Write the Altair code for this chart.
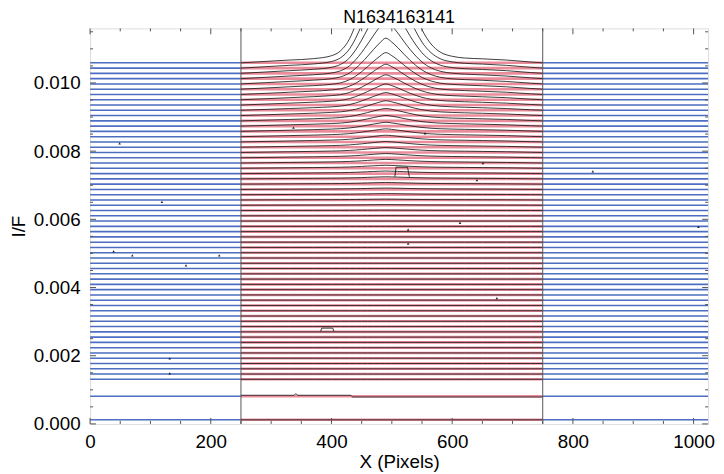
import altair as alt
import pandas as pd

# ---------------- data ----------------
TITLE = "N1634163141"

# baseline (fit) level of every row profile, top to bottom
ROW_OFFSETS = [
    0.010590, 0.010435, 0.010281, 0.010126, 0.009971, 0.009817, 0.009662, 0.009507,
    0.009352, 0.009198, 0.009043, 0.008888, 0.008734, 0.008579, 0.008424, 0.008270,
    0.008115, 0.007960, 0.007805, 0.007651, 0.007496, 0.007341, 0.007187, 0.007032,
    0.006877, 0.006723, 0.006568, 0.006413, 0.006258, 0.006104, 0.005949, 0.005794,
    0.005640, 0.005485, 0.005330, 0.005176, 0.005021, 0.004866, 0.004711, 0.004557,
    0.004402, 0.004247, 0.004093, 0.003938, 0.003783, 0.003629, 0.003474, 0.003319,
    0.003164, 0.003010, 0.002855, 0.002700, 0.002546, 0.002391, 0.002236, 0.002082,
    0.001927, 0.001772, 0.001617, 0.001463, 0.001308, 0.000810, 0.000120,
]

# height of the narrow central peak on each row (rows not listed: none)
CORE_AMP = [
    0.00377, 0.00276, 0.00203, 0.00151, 0.00116, 0.00090, 0.000725, 0.00058,
    0.000479, 0.000392, 0.000319, 0.000261, 0.000218, 0.00018, 0.000151, 0.000128,
    0.000107, 0.00009, 0.000075, 0.000064, 0.000052, 0.0000435, 0.0000348, 0.000029,
    0.0000232, 0.0000174, 0.000013, 0.0000087, 0.0000058, 0.0000029,
]
# height of the broad pedestal under it
WING_AMP = [
    0.000203, 0.000203, 0.000197, 0.000191, 0.000183, 0.000174, 0.000162, 0.000151,
    0.000139, 0.000128, 0.000116, 0.000104, 0.0000957, 0.000087, 0.0000783, 0.0000696,
    0.0000609, 0.0000551, 0.0000493, 0.0000435, 0.0000377, 0.0000319, 0.0000261,
    0.0000203, 0.0000174, 0.0000145, 0.0000116, 0.0000087, 0.0000058, 0.0000029,
]

# profile shapes across the fitted window (relative to their peaks)
BUMP_X = [250, 290, 330, 370, 400, 415, 430, 440, 450, 460, 470, 480, 490, 500,
          510, 520, 530, 540, 550, 565, 580, 600, 620, 650, 690, 730, 750]
CORE_SHAPE = [0, 0, 0, 0, 0.015, 0.05, 0.14, 0.25, 0.39, 0.55, 0.72, 0.88, 1.0, 0.9,
              0.76, 0.6, 0.45, 0.32, 0.21, 0.1, 0.04, 0.01, 0, 0, 0, 0, 0]
WING_SHAPE = [0, 0.2, 0.4, 0.6, 0.75, 0.81, 0.88, 0.91, 0.94, 0.97, 0.985, 0.995, 1.0,
              0.995, 0.985, 0.97, 0.95, 0.92, 0.9, 0.86, 0.82, 0.76, 0.7, 0.58, 0.4, 0.12, 0]

# row with a small step (second from bottom)
STEP_ROW_X = [250, 338, 341, 344, 432, 435, 750]
STEP_ROW_Y = [0.00084, 0.00084, 0.00089, 0.00084, 0.00084, 0.00079, 0.00079]

# flat-topped artefacts
ART1_X = [505, 507, 526, 529]
ART1_Y = [0.00725, 0.00753, 0.00753, 0.00725]
ART2_X = [382, 384, 402, 404]
ART2_Y = [0.00272, 0.00281, 0.00281, 0.00272]

# isolated spikes (cosmic rays)
SPIKE_X = [337, 49, 119, 70, 159, 214, 39, 132, 132, 527, 833, 1008, 555, 651, 641, 613, 527, 674]
SPIKE_Y = [0.00869, 0.00823, 0.00651, 0.00494, 0.00465, 0.00494, 0.00506, 0.00148, 0.00192,
           0.00570, 0.00741, 0.00578, 0.00852, 0.00765, 0.00715, 0.00590, 0.00529, 0.00369]

X_MAJOR = [0, 200, 400, 600, 800, 1000]
X_MINOR = [50, 100, 150, 250, 300, 350, 450, 500, 550, 650, 700, 750, 850, 900, 950]
Y_MAJOR = [0.0, 0.002, 0.004, 0.006, 0.008, 0.010]
Y_MINOR = [0.0005, 0.001, 0.0015, 0.0025, 0.003, 0.0035, 0.0045, 0.005, 0.0055,
           0.0065, 0.007, 0.0075, 0.0085, 0.009, 0.0095, 0.0105, 0.011, 0.0115]
DIVIDERS = [250, 750]

# ---------------- build tables ----------------
blue, red, black = [], [], []
for i, off in enumerate(ROW_OFFSETS):
    for s, (x0, x1) in enumerate([(0, 250), (750, 1024)]):
        blue.append({"seg": f"{i}-{s}", "x": x0, "y": off})
        blue.append({"seg": f"{i}-{s}", "x": x1, "y": off})
    red.append({"seg": f"{i}", "x": 250, "y": off})
    red.append({"seg": f"{i}", "x": 750, "y": off})
    if i == len(ROW_OFFSETS) - 2:
        for j, (x, y) in enumerate(zip(STEP_ROW_X, STEP_ROW_Y)):
            black.append({"seg": f"{i}", "x": x, "y": y, "o": j})
    else:
        ca = CORE_AMP[i] if i < len(CORE_AMP) else 0.0
        wa = WING_AMP[i] if i < len(WING_AMP) else 0.0
        for j, (x, cs, ws) in enumerate(zip(BUMP_X, CORE_SHAPE, WING_SHAPE)):
            black.append({"seg": f"{i}", "x": x, "y": off + ca * cs + wa * ws, "o": j})

arts = []
for name, xs_, ys_ in [("a1", ART1_X, ART1_Y), ("a2", ART2_X, ART2_Y)]:
    for j, (x, y) in enumerate(zip(xs_, ys_)):
        arts.append({"seg": name, "x": x, "y": y, "o": j})

df_blue = pd.DataFrame(blue)
df_red = pd.DataFrame(red)
df_black = pd.DataFrame(black)
df_art = pd.DataFrame(arts)
df_spike = pd.DataFrame({"x": SPIKE_X, "y": SPIKE_Y})

FONT = "Liberation Sans"
FS = 19
xs = alt.Scale(domain=[0, 1024], nice=False, zero=False)
ys = alt.Scale(domain=[0, 0.0116], nice=False, zero=False)
xaxis = alt.Axis(values=X_MAJOR, format="d", ticks=False, tickSize=0, domain=False, grid=False,
                 labelFontSize=FS, labelFont=FONT, labelColor="#000", labelPadding=9,
                 labelFlush=False, labelOverlap=False,
                 title="X (Pixels)", titleFont=FONT, titleFontSize=FS,
                 titleFontWeight="normal", titleColor="#000", titlePadding=1)
yaxis = alt.Axis(values=Y_MAJOR, format=".3f", ticks=False, tickSize=0, domain=False,
                 grid=False, labelFontSize=FS, labelFont=FONT, labelColor="#000",
                 labelPadding=10, labelFlush=False, labelOverlap=False,
                 title="I/F", titleFont=FONT, titleFontSize=FS,
                 titleFontWeight="normal", titleColor="#000", titlePadding=5)
X = alt.X("x:Q", scale=xs, axis=xaxis)
Y = alt.Y("y:Q", scale=ys, axis=yaxis)

blue_wide = alt.Chart(df_blue).mark_line(color="#5678cc", strokeWidth=1.6, clip=True).encode(
    x=X, y=Y, detail="seg:N")
blue_core = alt.Chart(df_blue).mark_line(color="#1d3278", strokeWidth=0.5, opacity=0.35, clip=True).encode(
    x=X, y=Y, detail="seg:N")
red_wide = alt.Chart(df_red).mark_line(color="#e8788a", strokeWidth=2.6, opacity=0.85, clip=True).encode(
    x=X, y=Y, detail="seg:N")
black_l = alt.Chart(df_black).mark_line(color="#1a1a1a", strokeWidth=0.85, interpolate="monotone",
                                        clip=True).encode(x=X, y=Y, detail="seg:N", order="o:Q")
art_l = alt.Chart(df_art).mark_line(color="#1a1a1a", strokeWidth=0.9, clip=True).encode(
    x=X, y=Y, detail="seg:N", order="o:Q")
spikes = alt.Chart(df_spike).mark_point(shape="triangle-up", filled=True, size=7, color="#111",
                                        opacity=0.9, clip=True).encode(x=X, y=Y)
dividers = alt.Chart(pd.DataFrame({"x": DIVIDERS})).mark_rule(color="#555", strokeWidth=1).encode(x=X)

dxm = pd.DataFrame({"x": X_MAJOR})
dxn = pd.DataFrame({"x": X_MINOR})
dym = pd.DataFrame({"y": Y_MAJOR})
dyn = pd.DataFrame({"y": Y_MINOR})
tick_col = "#555"
ticks = [
    alt.Chart(dxm).mark_rule(color=tick_col).encode(x=X, y=alt.value(400), y2=alt.value(394)),
    alt.Chart(dxn).mark_rule(color=tick_col).encode(x=X, y=alt.value(400), y2=alt.value(397)),
    alt.Chart(dxm).mark_rule(color=tick_col).encode(x=X, y=alt.value(0), y2=alt.value(6)),
    alt.Chart(dxn).mark_rule(color=tick_col).encode(x=X, y=alt.value(0), y2=alt.value(3)),
    alt.Chart(dym).mark_rule(color=tick_col).encode(y=Y, x=alt.value(0), x2=alt.value(6)),
    alt.Chart(dyn).mark_rule(color=tick_col).encode(y=Y, x=alt.value(0), x2=alt.value(3)),
    alt.Chart(dym).mark_rule(color=tick_col).encode(y=Y, x=alt.value(625), x2=alt.value(619)),
    alt.Chart(dyn).mark_rule(color=tick_col).encode(y=Y, x=alt.value(625), x2=alt.value(622)),
]

chart = alt.layer(blue_wide, blue_core, red_wide, black_l, art_l, spikes, dividers, *ticks).properties(
    width=625, height=400,
    title=alt.TitleParams(TITLE, font=FONT, fontSize=18, fontWeight="normal", color="#000",
                          anchor="middle", offset=1),
    autosize=alt.AutoSizeParams(type="none"),
    padding={"left": 83, "top": 18, "right": 8, "bottom": 46},
).configure_view(stroke="#555", strokeWidth=1).configure(background="white")

chart.save("out.html", embed_options={"renderer": "svg", "actions": False})
